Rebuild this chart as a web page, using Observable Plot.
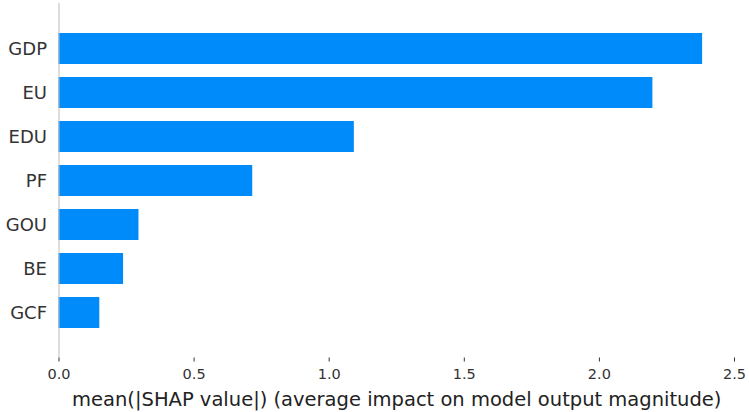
<!DOCTYPE html>
<html>
<head>
<meta charset="utf-8">
<script src="https://cdn.jsdelivr.net/npm/d3@7"></script>
<script src="https://cdn.jsdelivr.net/npm/@observablehq/plot@0.6"></script>
<style>
  html, body { margin: 0; padding: 0; background: #fff; }
  #chart svg { display: block; }
</style>
</head>
<body>
<div id="chart"></div>
<script>
const features = ["GDP", "EU", "EDU", "PF", "GOU", "BE", "GCF"];
const values = [2.382, 2.198, 1.093, 0.717, 0.296, 0.239, 0.151];
const xTicks = [0, 0.5, 1.0, 1.5, 2.0, 2.5];
const xLabel = "mean(|SHAP value|) (average impact on model output magnitude)";

const data = features.map((f, i) => ({feature: f, value: values[i]}));

const chart = Plot.plot({
  width: 749,
  height: 412,
  marginLeft: 58.5,
  marginRight: 15,
  marginTop: 3,
  marginBottom: 54.5,
  style: {fontFamily: "'DejaVu Sans', sans-serif", color: "#333", background: "#fff"},
  x: {domain: [0, 2.5], ticks: xTicks, tickFormat: d3.format(".1f"), line: true},
  y: {domain: features, paddingInner: 0.3, paddingOuter: 0.65},
  marks: [
    Plot.barX(data, {x: "value", y: "feature", fill: "#008bfb"}),
    Plot.ruleX([0], {stroke: "#bbb", strokeWidth: 1}),
    Plot.axisX({ticks: xTicks, tickFormat: d3.format(".1f"), tickSize: 4, tickPadding: 7, fontSize: 14.5, label: null, stroke: "#333", fill: "#333"}),
    Plot.axisY({tickSize: 0, tickPadding: 12, fontSize: 18, label: null, fill: "#333"}),
    Plot.text([xLabel], {frameAnchor: "bottom", dy: 41.5, fontSize: 19.5, fill: "#222", lineAnchor: "middle"})
  ]
});
document.getElementById("chart").appendChild(chart);
</script>
</body>
</html>
